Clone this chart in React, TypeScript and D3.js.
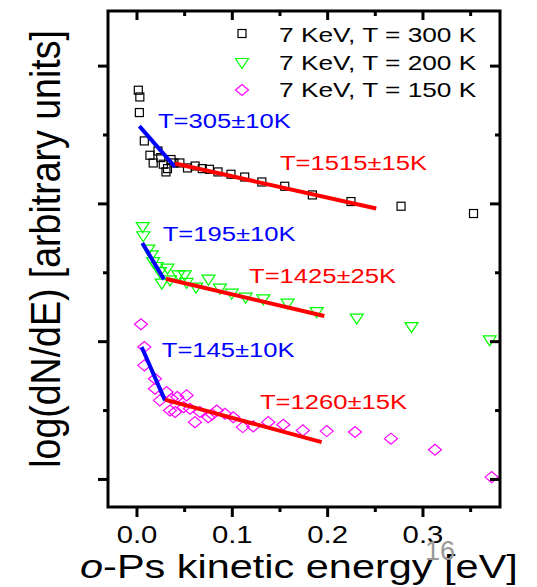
import React from "react";
import * as d3 from "d3";

const W = 537, H = 587;
const M = { left: 108, right: 500, top: 11, bottom: 507 };

// series 7 KeV, T = 300 K  [energy eV, log(dN/dE)]
const s300: [number, number][] = [
  [0.0014, 2.825], [0.003, 2.776], [0.0025, 2.663], [0.0077, 2.457], [0.0136, 2.353],
  [0.017, 2.297], [0.022, 2.384], [0.025, 2.336], [0.0276, 2.288], [0.0304, 2.232],
  [0.032, 2.256], [0.0357, 2.322], [0.0388, 2.297], [0.045, 2.297], [0.053, 2.261],
  [0.061, 2.275], [0.0685, 2.256], [0.076, 2.251], [0.085, 2.232], [0.0986, 2.215],
  [0.113, 2.195], [0.131, 2.159], [0.155, 2.128], [0.184, 2.065], [0.2245, 2.017],
  [0.277, 1.983], [0.353, 1.93],
];
// series 7 KeV, T = 200 K
const s200: [number, number][] = [
  [0.006, 1.832], [0.0066, 1.765], [0.0119, 1.668], [0.0154, 1.627], [0.017, 1.578],
  [0.0207, 1.542], [0.024, 1.505], [0.026, 1.421], [0.032, 1.53], [0.0346, 1.445],
  [0.0434, 1.481], [0.05, 1.481], [0.052, 1.426], [0.062, 1.392], [0.075, 1.45],
  [0.087, 1.385], [0.0993, 1.348], [0.114, 1.32], [0.1325, 1.307], [0.158, 1.276],
  [0.1885, 1.215], [0.2305, 1.167], [0.288, 1.106], [0.37, 1.009],
];
// series 7 KeV, T = 150 K
const s150: [number, number][] = [
  [0.0042, 1.126], [0.0077, 0.961], [0.0077, 0.828], [0.0189, 0.731], [0.0189, 0.659],
  [0.031, 0.634], [0.024, 0.574], [0.0364, 0.586], [0.0423, 0.598], [0.052, 0.61],
  [0.0346, 0.501], [0.04, 0.489], [0.049, 0.525], [0.0556, 0.513], [0.0608, 0.416],
  [0.066, 0.489], [0.0748, 0.452], [0.079, 0.472], [0.0836, 0.501], [0.0923, 0.477],
  [0.101, 0.452], [0.111, 0.38], [0.122, 0.385], [0.1377, 0.416], [0.1535, 0.397],
  [0.174, 0.356], [0.199, 0.351], [0.2287, 0.344], [0.2664, 0.296], [0.3126, 0.216],
  [0.372, 0.017],
];

// fitted lines [x1, y1, x2, y2]
const blueFits: [number, number, number, number][] = [
  [0.0025, 2.564, 0.04, 2.268],
  [0.0056, 1.716, 0.0283, 1.452],
  [0.0049, 0.961, 0.0294, 0.574],
];
const redFits: [number, number, number, number][] = [
  [0.04, 2.293, 0.251, 1.966],
  [0.0304, 1.457, 0.1965, 1.186],
  [0.0294, 0.579, 0.1937, 0.271],
];
const blueLabels = ["T=305±10K", "T=195±10K", "T=145±10K"];
const blueLabelPos: [number, number][] = [[0.022, 2.549], [0.027, 1.728], [0.026, 0.886]];
const redLabels = ["T=1515±15K", "T=1425±25K", "T=1260±15K"];
const redLabelPos: [number, number][] = [[0.15, 2.244], [0.1175, 1.423], [0.129, 0.508]];

const legendLabels = ["7 KeV, T = 300 K", "7 KeV, T = 200 K", "7 KeV, T = 150 K"];
const xMajor = [0, 0.1, 0.2, 0.3];
const xMinor = [0.05, 0.15, 0.25, 0.35];
const yMajor = [0, 1, 2, 3];
const yMinor = [0.5, 1.5, 2.5];

const FONT = "'Liberation Sans', Arial, Helvetica, sans-serif";
const SX = 1.22;

const x = d3.scaleLinear().domain([-0.0304, 0.3808]).range([M.left, M.right]);
const y = d3.scaleLinear().domain([-0.2, 3.4]).range([M.bottom, M.top]);

const Square = ({ cx, cy }: { cx: number; cy: number }) => (
  <rect x={cx - 4} y={cy - 4} width={8} height={8} fill="none" stroke="#000" strokeWidth={1.2} />
);
const Tri = ({ cx, cy }: { cx: number; cy: number }) => (
  <path d={`M${cx - 6.5},${cy - 4.5}L${cx + 6.5},${cy - 4.5}L${cx},${cy + 5.5}Z`} fill="none" stroke="#00ff00" strokeWidth={1.2} />
);
const Dia = ({ cx, cy }: { cx: number; cy: number }) => (
  <path d={`M${cx - 6.5},${cy}L${cx},${cy - 5.5}L${cx + 6.5},${cy}L${cx},${cy + 5.5}Z`} fill="none" stroke="#ff00ff" strokeWidth={1.2} />
);

const T = ({ px, py, size, fill = "#000", anchor = "start", children, sx = SX }: any) => (
  <text transform={`translate(${px},${py}) scale(${sx},1)`} fontSize={size} fill={fill} textAnchor={anchor} fontFamily={FONT}>
    {children}
  </text>
);

export default function App() {
  const markers = [Square, Tri, Dia];
  return (
    <svg width={W} height={H} style={{ position: "absolute", left: 0, top: 0, background: "#fff" }}>
      <rect width={W} height={H} fill="#fff" />
      {/* data */}
      {s300.map((d, i) => <Square key={"a" + i} cx={x(d[0])} cy={y(d[1])} />)}
      {s200.map((d, i) => <Tri key={"b" + i} cx={x(d[0])} cy={y(d[1])} />)}
      {s150.map((d, i) => <Dia key={"c" + i} cx={x(d[0])} cy={y(d[1])} />)}
      {blueFits.map((f, i) => (
        <line key={"bl" + i} x1={x(f[0])} y1={y(f[1])} x2={x(f[2])} y2={y(f[3])} stroke="#0000ff" strokeWidth={4} />
      ))}
      {redFits.map((f, i) => (
        <line key={"rl" + i} x1={x(f[0])} y1={y(f[1])} x2={x(f[2])} y2={y(f[3])} stroke="#ff0000" strokeWidth={4} />
      ))}
      {blueLabels.map((t, i) => (
        <T key={"bt" + i} px={x(blueLabelPos[i][0])} py={y(blueLabelPos[i][1])} size={21} fill="#0000ff">{t}</T>
      ))}
      {redLabels.map((t, i) => (
        <T key={"rt" + i} px={x(redLabelPos[i][0])} py={y(redLabelPos[i][1])} size={21} fill="#ff0000">{t}</T>
      ))}
      {/* legend */}
      {legendLabels.map((t, i) => {
        const Mk = markers[i];
        const cy = [33.5, 63, 90][i];
        return (
          <g key={"lg" + i}>
            <Mk cx={242} cy={cy} />
            <T px={279} py={[42, 69.5, 97][i]} size={21} sx={1.25}>{t}</T>
          </g>
        );
      })}
      {/* frame */}
      <rect x={M.left} y={M.top} width={M.right - M.left} height={M.bottom - M.top} fill="none" stroke="#000" strokeWidth={3} />
      {xMajor.map((v) => (
        <g key={"xm" + v}>
          <line x1={x(v)} x2={x(v)} y1={M.bottom} y2={M.bottom + 10} stroke="#000" strokeWidth={3} />
          <line x1={x(v)} x2={x(v)} y1={M.top} y2={M.top + 9} stroke="#000" strokeWidth={3} />
          <T px={x(v)} py={543} size={24} anchor="middle">{d3.format(".1f")(v)}</T>
        </g>
      ))}
      {xMinor.map((v) => (
        <g key={"xn" + v}>
          <line x1={x(v)} x2={x(v)} y1={M.bottom} y2={M.bottom + 5} stroke="#000" strokeWidth={3} />
          <line x1={x(v)} x2={x(v)} y1={M.top} y2={M.top + 5} stroke="#000" strokeWidth={3} />
        </g>
      ))}
      {yMajor.map((v) => (
        <g key={"ym" + v}>
          <line x1={M.left - 10} x2={M.left} y1={y(v)} y2={y(v)} stroke="#000" strokeWidth={3} />
          <line x1={M.right - 10} x2={M.right} y1={y(v)} y2={y(v)} stroke="#000" strokeWidth={3} />
        </g>
      ))}
      {yMinor.map((v) => (
        <g key={"yn" + v}>
          <line x1={M.left - 5} x2={M.left} y1={y(v)} y2={y(v)} stroke="#000" strokeWidth={3} />
          <line x1={M.right - 5} x2={M.right} y1={y(v)} y2={y(v)} stroke="#000" strokeWidth={3} />
        </g>
      ))}
      {/* axis titles */}
      <text transform={`translate(80,578) scale(${SX},1)`} fontSize={34} fontFamily={FONT} fill="#000">
        <tspan fontStyle="italic">o</tspan>-Ps kinetic energy [eV]
      </text>
      <text transform={`translate(60,249) rotate(-90) scale(1,1.15)`} fontSize={37.5} fontFamily={FONT} textAnchor="middle" fill="#000">
        log(dN/dE) [arbitrary units]
      </text>
      <text x={425} y={560} fontSize={27} fontFamily={FONT} fill="#999">16</text>
    </svg>
  );
}
